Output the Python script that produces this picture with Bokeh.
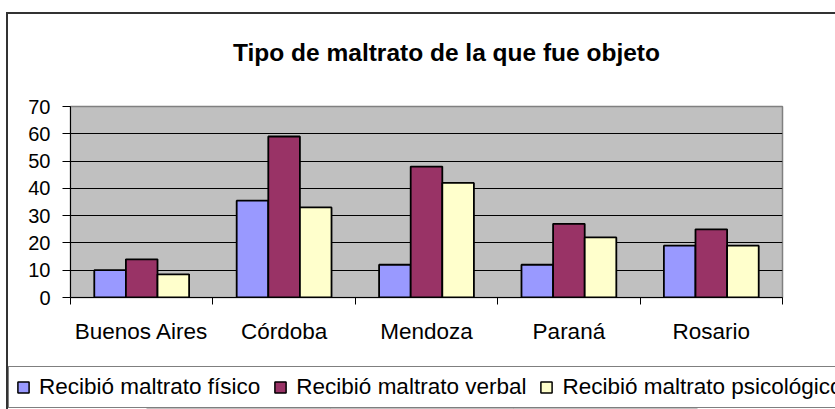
from bokeh.plotting import figure
from bokeh.layouts import column, row
from bokeh.models import (ColumnDataSource, Range1d, FixedTicker, Legend, LegendItem, Label)
from bokeh.transform import dodge
from bokeh.embed import file_html
from bokeh.resources import INLINE

# ---- data ----
categories = ["Buenos Aires", "Córdoba", "Mendoza", "Paraná", "Rosario"]
series_names = ["Recibió maltrato físico", "Recibió maltrato verbal", "Recibió maltrato psicológico"]
fisico = [10, 35.5, 12, 12, 19]
verbal = [14, 59, 48, 27, 25]
psicologico = [8.5, 33, 42, 22, 19]
y_ticks = [0, 10, 20, 30, 40, 50, 60, 70]
title_text = "Tipo de maltrato de la que fue objeto"

colors = ["#9999FF", "#993366", "#FFFFCC"]
FONT = "Liberation Sans"
W = 827

xc = [i + 0.5 for i in range(len(categories))]
source = ColumnDataSource(dict(xc=xc, cat=categories, fisico=fisico, verbal=verbal,
                               psicologico=psicologico))
cols = ["fisico", "verbal", "psicologico"]
bw = 0.222

# ---- title strip ----
TH = 80
pt = figure(width=W, height=TH, output_backend="svg", toolbar_location=None,
            x_range=Range1d(0, W), y_range=Range1d(0, TH), min_border=0,
            x_axis_location=None, y_axis_location=None, title=None)
pt.outline_line_color = None
pt.xgrid.visible = False
pt.ygrid.visible = False
pt.add_layout(Label(x=438, y=42, text=title_text, text_font=FONT, text_font_size="24.5px",
                    text_font_style="bold", text_align="center", text_baseline="middle",
                    text_color="black"))

# ---- main chart ----
p = figure(width=W, height=272, output_backend="svg", toolbar_location=None,
           x_range=Range1d(0, len(categories)), y_range=Range1d(0, 70),
           min_border_left=62, min_border_right=53, min_border_top=12, min_border_bottom=69,
           title=None)
p.background_fill_color = "#C0C0C0"
p.border_fill_color = "white"
p.outline_line_color = "#808080"
p.outline_line_width = 1.5

for k, (col, c) in enumerate(zip(cols, colors)):
    p.vbar(x=dodge("xc", (k - 1) * bw, range=p.x_range), top=col, bottom=0, width=bw,
           source=source, fill_color=c, line_color="black", line_width=1.8)

p.yaxis.ticker = FixedTicker(ticks=y_ticks, minor_ticks=[])
p.yaxis.major_tick_out = 8
p.yaxis.major_tick_in = 0
p.yaxis.major_tick_line_color = "black"
p.yaxis.axis_line_color = "black"
p.yaxis.major_label_text_font = FONT
p.yaxis.major_label_text_font_size = "20px"
p.yaxis.major_label_text_color = "black"
p.yaxis.major_label_standoff = 12
p.ygrid.ticker = FixedTicker(ticks=y_ticks)
p.ygrid.grid_line_color = "black"
p.ygrid.grid_line_width = 1
p.xgrid.grid_line_color = None

p.xaxis.ticker = FixedTicker(ticks=xc, minor_ticks=list(range(len(categories) + 1)))
p.xaxis.major_label_overrides = {x: c for x, c in zip(xc, categories)}
p.xaxis.major_tick_line_color = None
p.xaxis.major_tick_out = 0
p.xaxis.major_tick_in = 0
p.xaxis.minor_tick_out = 7
p.xaxis.minor_tick_in = 0
p.xaxis.minor_tick_line_color = "black"
p.xaxis.axis_line_color = "black"
p.xaxis.major_label_text_font = FONT
p.xaxis.major_label_text_font_size = "22.5px"
p.xaxis.major_label_text_color = "black"
p.xaxis.major_label_standoff = 14

# ---- legend strip (bars kept out of view; only legend shows) ----
pl = figure(width=W, height=43, output_backend="svg", toolbar_location=None,
            x_range=Range1d(0, 1), y_range=Range1d(1000, 1001), min_border=0,
            x_axis_location=None, y_axis_location=None, title=None)
pl.outline_line_color = None
pl.xgrid.visible = False
pl.ygrid.visible = False
leg_r = []
for k, (col, c) in enumerate(zip(cols, colors)):
    leg_r.append(pl.vbar(x=dodge("xc", (k - 1) * bw, range=pl.x_range), top=col, bottom=0,
                         width=bw, source=source, fill_color=c, line_color="black",
                         line_width=1.5))
legend = Legend(items=[LegendItem(label=n, renderers=[r]) for n, r in zip(series_names, leg_r)],
                orientation="horizontal", location=(0, 1),
                label_text_font=FONT, label_text_font_size="22.5px", label_text_color="black",
                glyph_width=14, glyph_height=14, label_standoff=9, spacing=13,
                padding=7, margin=0, border_line_color="black", border_line_width=1,
                background_fill_color="white", background_fill_alpha=1)
pl.add_layout(legend, "center")

layout = column(row(pt), p, row(pl), spacing=0)
layout.margin = (12, 0, 0, 6)
layout.styles = {"border-top": "2px solid #333333", "border-left": "2px solid #333333"}

open("out.html", "w").write(file_html(layout, INLINE))
